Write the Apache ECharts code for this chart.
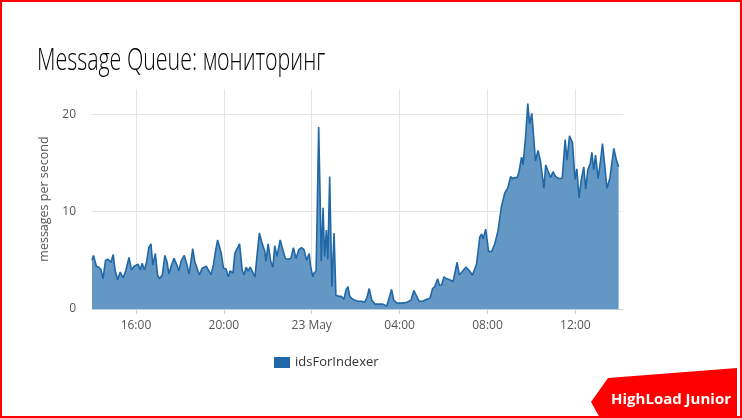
<!DOCTYPE html>
<html><head><meta charset="utf-8">
<script src="https://cdn.jsdelivr.net/npm/echarts@6/dist/echarts.min.js"></script>
<style>html,body{margin:0;padding:0;background:#fff}#c{width:742px;height:418px}</style>
</head><body><div id="c"></div>
<script>
const slideTitle = 'Message Queue: мониторинг';
const seriesName = 'idsForIndexer';
const yAxisName = 'messages per second';
const badgeText = 'HighLoad Junior';
const startMinute = 840; // 22 May 14:00 (minutes from 22 May 00:00)
const axisEndMinute = 840 + 1450;
// minutes after the start, and messages per second
const minutes = [
  0,4,12,19,25,30,37,44,52,58,63,70,77,85,92,101,108,115,120,126,132,137,143,149,155,161,166,173,179,184,192,199,205,210,217,224,232,
  237,244,252,259,265,270,275,281,286,293,301,306,312,317,325,332,337,343,348,353,359,366,372,377,385,390,395,403,410,415,421,426,432,437,445,452,457,464,472,
  475,481,488,494,499,505,514,521,528,535,543,550,557,565,572,579,586,593,597,603,606,612,615,619,623,626,631,635,640,644,649,655,661,666,674,681,688,694,699,704,712,
  718,726,737,745,751,757,764,773,784,794,805,812,818,824,833,846,860,871,879,884,893,903,914,923,930,936,944,949,955,961,969,977,986,997,1003,1010,1021,1029,1039,1050,
  1059,1064,1068,1075,1083,1091,1100,1109,1118,1127,1136,1143,1149,1155,1161,1166,1173,1177,1184,1190,1195,1201,1206,1211,1218,1225,1234,1239,1244,1252,1259,1266,1275,1284,
  1292,1297,1304,1312,1319,1324,1330,1336,1343,1348,1354,1361,1365,1370,1375,1382,1388,1394,1400,1406,1414,1419,1425,1432,1438
];
const values = [
  5.0,5.5,4.4,4.3,4.0,3.1,5.0,5.1,4.8,5.6,4.0,3.0,3.8,3.2,3.9,5.3,4.0,4.4,4.2,4.6,4.0,4.7,4.0,4.8,6.3,6.7,4.5,5.7,3.5,3.1,3.5,5.5,4.8,3.6,4.5,5.2,4.5,
  3.9,5.0,5.5,4.6,3.6,4.8,6.2,4.8,4.3,3.5,4.2,4.0,4.4,4.6,3.5,4.6,5.9,7.1,6.4,5.7,4.2,4.1,3.3,3.9,3.7,5.7,6.1,6.7,4.0,3.5,4.3,3.9,4.3,4.1,3.3,6.0,7.8,6.8,5.9,
  4.9,6.7,4.9,4.3,6.5,5.4,7.1,6.1,5.2,5.1,5.2,6.3,5.2,6.1,6.3,6.1,5.0,5.7,4.4,3.3,3.7,3.9,10.1,18.7,11.4,4.9,10.4,5.4,8.1,5.1,13.6,2.3,7.8,1.4,1.3,1.3,1.0,2.0,2.3,1.3,1.0,
  0.9,0.8,0.8,0.7,1.2,2.1,0.9,0.5,0.5,0.5,0.3,1.2,2.0,0.9,0.6,0.6,0.7,0.9,1.9,1.7,0.8,0.8,1.0,1.1,2.1,2.3,3.1,2.4,2.5,3.3,3.1,3.0,2.8,4.8,3.5,3.8,4.3,4.0,3.5,4.6,
  7.4,7.7,7.2,8.2,5.9,5.9,6.7,8.1,10.5,11.9,12.5,13.6,13.4,13.5,13.5,14.1,15.6,14.8,17.7,21.1,19.0,20.1,17.7,15.2,16.3,15.1,12.4,14.8,14.7,13.5,14.1,13.6,13.4,13.4,
  17.4,15.3,17.8,17.1,13.3,14.4,11.4,13.3,14.6,12.3,14.3,15.0,16.1,14.3,15.8,13.4,15.0,17.0,14.8,12.4,13.4,13.3,16.5,15.3,14.6
];
const xTickMinutes = [960, 1200, 1440, 1680, 1920, 2160];
const xTickLabels = ['16:00', '20:00', '23 May', '04:00', '08:00', '12:00'];
const yTicks = [0, 10, 20];
const yMax = 22.6;

const data = minutes.map((m, i) => [startMinute + m, values[i]]);
const chart = echarts.init(document.getElementById('c'));
const font = '"Open Sans", "Liberation Sans", sans-serif';
chart.setOption({
  backgroundColor: '#fff',
  animation: false,
  grid: { left: 92, right: 119, top: 89, bottom: 109, containLabel: false },
  legend: {
    data: [{ name: seriesName, icon: 'rect', itemStyle: { color: '#1f67a6' } }],
    left: 274, top: 356, padding: 0, itemWidth: 16, itemHeight: 11, itemGap: 5,
    textStyle: { fontFamily: font, fontSize: 13, color: '#333' }
  },
  xAxis: {
    type: 'value', min: startMinute, max: axisEndMinute,
    axisLine: { show: true, lineStyle: { color: '#c0d0e0' } },
    axisTick: { show: true, length: 5, lineStyle: { color: '#c0d0e0' }, customValues: xTickMinutes },
    axisLabel: {
      customValues: xTickMinutes, margin: 11, fontFamily: font, fontSize: 12, color: '#555',
      formatter: v => { const i = xTickMinutes.indexOf(v); return i >= 0 ? xTickLabels[i] : ''; }
    },
    splitLine: { show: true, lineStyle: { color: '#e4e4e4', width: 1 } }
  },
  yAxis: {
    type: 'value', min: 0, max: yMax,
    name: yAxisName, nameLocation: 'middle', nameGap: 37,
    nameTextStyle: { fontFamily: font, fontSize: 12.5, color: '#555' },
    axisLine: { show: false }, axisTick: { show: false, customValues: yTicks },
    axisLabel: { customValues: yTicks, margin: 16, fontFamily: font, fontSize: 12, color: '#555' },
    splitLine: { show: true, lineStyle: { color: '#e4e4e4', width: 1 } }
  },
  series: [{
    name: seriesName, type: 'line', data: data, showSymbol: false, smooth: false,
    lineStyle: { color: '#1f67a6', width: 1.6 },
    itemStyle: { color: '#1f67a6' },
    areaStyle: { color: '#6498c4', opacity: 1 }
  }],
  graphic: [
    { type: 'rect', shape: { x: 1, y: 1, width: 740, height: 416 }, style: { fill: 'none', stroke: '#ff0000', lineWidth: 2 }, silent: true },
    { type: 'text', x: 37, y: 61, scaleX: 0.69, style: { x: 0, y: 0, text: slideTitle, font: '300 31px "Open Sans", sans-serif', fill: '#000', verticalAlign: 'middle', align: 'left' } },
    { type: 'polygon', shape: { points: [[608, 378], [737, 368], [737, 418], [600, 418], [591, 402]] }, style: { fill: '#ff0000' } },
    { type: 'text', x: 671, y: 400, style: { text: badgeText, font: 'bold 15px "Open Sans", sans-serif', fill: '#fff', align: 'center', verticalAlign: 'middle' } }
  ]
});
</script></body></html>
